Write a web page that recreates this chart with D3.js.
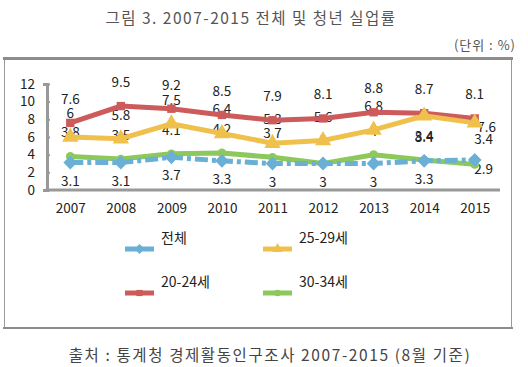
<!DOCTYPE html>
<html>
<head>
<meta charset="utf-8">
<script src="https://cdn.jsdelivr.net/npm/d3@7"></script>
<style>
  body { margin: 0; background: #fff; }
  text { font-family: "Noto Sans CJK KR", "Noto Sans", sans-serif; }
</style>
</head>
<body>
<div class="chart"></div>
<script>
'use strict';

var years = ['2007', '2008', '2009', '2010', '2011', '2012', '2013', '2014', '2015'];
var total = [3.1, 3.1, 3.7, 3.3, 3, 3, 3, 3.3, 3.4];
var age2024 = [7.6, 9.5, 9.2, 8.5, 7.9, 8.1, 8.8, 8.7, 8.1];
var age2529 = [6, 5.8, 7.5, 6.4, 5.3, 5.6, 6.8, 8.4, 7.6];
var age3034 = [3.8, 3.5, 4.1, 4.2, 3.7, 3, 4, 3.4, 2.9];
var yTicks = [0, 2, 4, 6, 8, 10, 12];

var series = [
  {key: 'red', name: '20-24세', values: age2024, color: '#cd5b5b', shape: 'square'},
  {key: 'yellow', name: '25-29세', values: age2529, color: '#f0c04c', shape: 'triangle'},
  {key: 'green', name: '30-34세', values: age3034, color: '#8dc85c', shape: 'circle'},
  {key: 'blue', name: '전체', values: total, color: '#6aafd6', shape: 'diamond', dash: '13,4,4,4'}
];

var W = 528, H = 367;
var svg = d3.select('.chart').append('svg')
  .attr('width', W)
  .attr('height', H);

// title and unit
svg.append('text')
  .attr('x', 251).attr('y', 24)
  .attr('text-anchor', 'middle')
  .attr('font-size', 15.5)
  .attr('letter-spacing', 1.5)
  .attr('fill', '#555')
  .text('그림 3. 2007-2015 전체 및 청년 실업률');

svg.append('text')
  .attr('x', 516).attr('y', 50)
  .attr('text-anchor', 'end')
  .attr('font-size', 13)
  .attr('letter-spacing', 1)
  .attr('fill', '#555')
  .text('(단위 : %)');

// frame
svg.append('rect')
  .attr('x', 4.5).attr('y', 58.5)
  .attr('width', 507).attr('height', 269)
  .attr('fill', 'none')
  .attr('stroke', '#999')
  .attr('stroke-width', 1);
svg.append('line')
  .attr('x1', 3).attr('x2', 513).attr('y1', 58.5).attr('y2', 58.5)
  .attr('stroke', '#8c8c8c').attr('stroke-width', 3);
svg.append('line')
  .attr('x1', 3).attr('x2', 513).attr('y1', 328).attr('y2', 328)
  .attr('stroke', '#8c8c8c').attr('stroke-width', 2);

svg.append('text')
  .attr('x', 270).attr('y', 361)
  .attr('text-anchor', 'middle')
  .attr('font-size', 15.5)
  .attr('letter-spacing', 1.6)
  .attr('fill', '#444')
  .text('출처 : 통계청 경제활동인구조사 2007-2015 (8월 기준)');

// scales
var x = d3.scalePoint()
  .domain(years)
  .range([45, 500])
  .padding(0.5);

var y = d3.scaleLinear()
  .domain([0, 12])
  .range([190, 84]);

// axes
var yAxis = svg.append('g')
  .attr('transform', 'translate(47,0)')
  .call(d3.axisLeft(y).tickValues(yTicks).tickSize(4).tickPadding(8));
yAxis.select('.domain').attr('stroke', '#999').attr('stroke-width', 3);
yAxis.selectAll('.tick line').attr('stroke', '#999').attr('stroke-width', 2).attr('x2', 3).attr('x1', -1);
yAxis.selectAll('.tick text').attr('font-size', 13.5).attr('fill', '#222')
  .attr('font-family', '"Noto Sans", sans-serif');

var xAxis = svg.append('g')
  .attr('transform', 'translate(0,190)')
  .call(d3.axisBottom(x).tickSize(0).tickPadding(13));
xAxis.select('.domain').attr('d', 'M45.5,0H500').attr('stroke', '#999').attr('stroke-width', 3);
xAxis.selectAll('.tick text').attr('font-size', 13.5).attr('fill', '#222')
  .attr('font-family', '"Noto Sans", sans-serif');

var line = d3.line()
  .x(function(d, i) { return x(years[i]); })
  .y(function(d) { return y(d); });

// diamond = square turned 45 degrees (d3's diamond is too tall)
function symbolFor(shape, scale) {
  var t = {square: d3.symbolSquare, triangle: d3.symbolTriangle, circle: d3.symbolCircle, diamond: d3.symbolSquare}[shape];
  var size = {square: 70, triangle: 115, circle: 60, diamond: 95}[shape];
  return d3.symbol().type(t).size(size * scale)();
}
function rot(shape) {
  return shape === 'diamond' ? ' rotate(45)' : '';
}

// data labels (drawn under the lines, as in the source chart)
var last = years.length - 1;
function labelPos(k, d, i) {
  var px = x(years[i]), py = y(d);
  if (k === 'red') return [px, py - 19];
  if (k === 'yellow') {
    if (age2024[i] - d < 1) {
      return i === last ? [px + 12, py + 9] : [px, py + 26];
    }
    return [px, py - 19];
  }
  if (i === last) {
    // the last two lower points sit close together: nudge to the right
    if (k === 'blue') return d >= age3034[i] ? [px + 9, py - 16] : [px + 9, py + 10];
    return d > total[i] ? [px + 9, py - 16] : [px + 9, py + 10];
  }
  if (k === 'blue') return d <= age3034[i] ? [px, py + 23] : [px, py - 19];
  return d < total[i] ? [px, py + 23] : [px, py - 19];
}

var labels = svg.append('g');
series.forEach(function(s) {
  labels.selectAll(null)
    .data(s.values)
    .enter().append('text')
    .attr('x', function(d, i) { return labelPos(s.key, d, i)[0]; })
    .attr('y', function(d, i) { return labelPos(s.key, d, i)[1]; })
    .attr('text-anchor', 'middle')
    .attr('font-size', 13.5)
    .attr('fill', '#222')
    .attr('font-family', '"Noto Sans", sans-serif')
    .text(function(d) { return d; });
});

var plot = svg.append('g');

series.forEach(function(s) {
  plot.append('path')
    .datum(s.values)
    .attr('fill', 'none')
    .attr('stroke', s.color)
    .attr('stroke-width', 5)
    .attr('stroke-dasharray', s.dash || null)
    .attr('d', line);
});

series.forEach(function(s) {
  plot.selectAll(null)
    .data(s.values)
    .enter().append('path')
    .attr('transform', function(d, i) { return 'translate(' + x(years[i]) + ',' + y(d) + ')' + rot(s.shape); })
    .attr('d', symbolFor(s.shape, 1))
    .attr('fill', s.color);
});

// legend
var legendOrder = [series[3], series[1], series[0], series[2]];
var legend = svg.append('g');
legendOrder.forEach(function(s, i) {
  var lx = i % 2 === 0 ? 125 : 263;
  var ly = i < 2 ? 249 : 293;
  var g = legend.append('g').attr('transform', 'translate(' + lx + ',' + ly + ')');
  g.append('line')
    .attr('x1', 0).attr('x2', 29)
    .attr('stroke', s.color).attr('stroke-width', 5);
  g.append('path')
    .attr('transform', 'translate(14.5,0)' + rot(s.shape))
    .attr('d', symbolFor(s.shape, s.shape === 'triangle' ? 0.4 : 0.55))
    .attr('fill', s.color);
  g.append('text')
    .attr('x', 36).attr('y', -6)
    .attr('font-size', 14)
    .attr('fill', '#222')
    .text(s.name);
});
</script>
</body>
</html>
